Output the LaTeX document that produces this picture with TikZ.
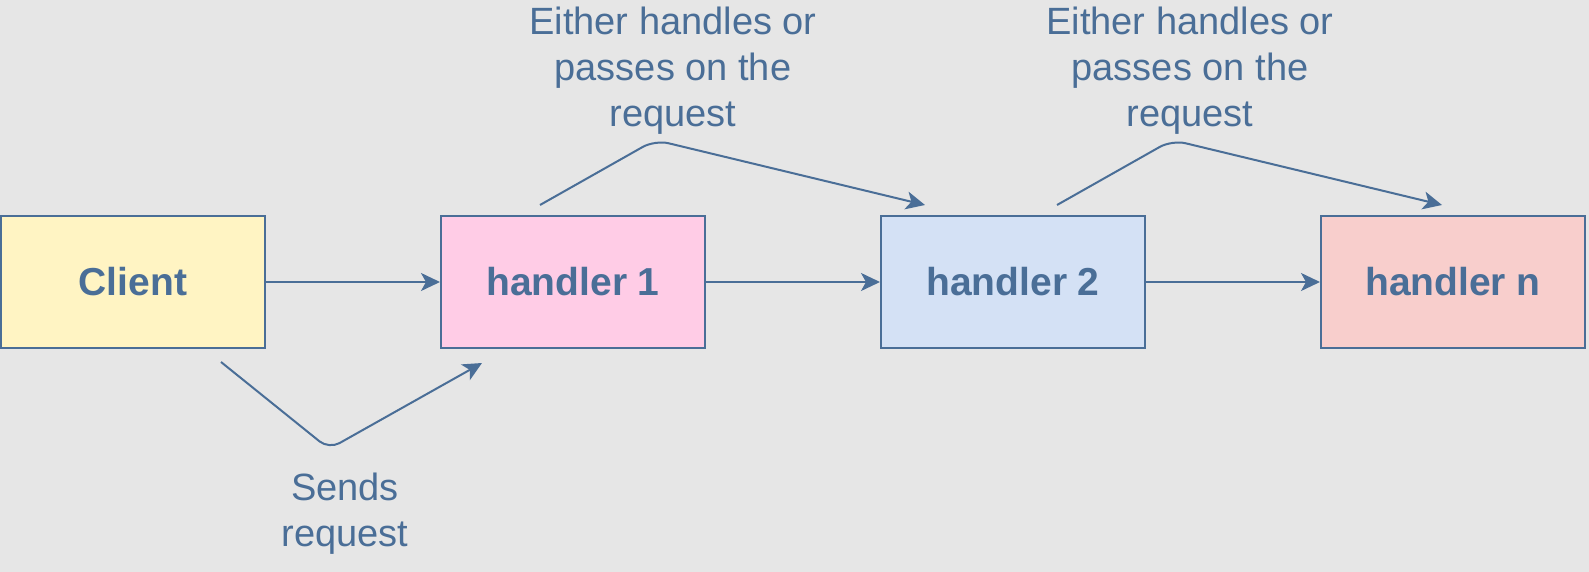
\documentclass[tikz,border=0pt]{standalone}
\usepackage{fontspec}
\setmainfont{Liberation Sans}
\usetikzlibrary{arrows.meta}

\definecolor{bggray}{HTML}{E6E6E6}
\definecolor{edgeblue}{HTML}{4A6E97}
\definecolor{clientyellow}{HTML}{FFF4C3}
\definecolor{hpink}{HTML}{FFCCE6}
\definecolor{hblue}{HTML}{D4E1F5}
\definecolor{hsalmon}{HTML}{F8CECC}

\begin{document}
\begin{tikzpicture}[x=1pt, y=-1pt,
  box/.style={draw=edgeblue, line width=2pt, minimum width=264pt, minimum height=132pt,
    inner sep=0pt, text=edgeblue, font=\fontsize{39}{46}\selectfont\bfseries},
  note/.style={align=center, text=edgeblue, font=\fontsize{38}{46}\selectfont},
  flow/.style={draw=edgeblue, line width=2pt, -{Stealth[length=19pt, width=18pt, inset=5pt]}}]

  \fill[bggray] (0,0) rectangle (1589,572);
  \useasboundingbox (0,0) rectangle (1589,572);

  % the chain
  \node[box, fill=clientyellow] (client) at (133,282) {Client};
  \node[box, fill=hpink]        (hone)   at (573,282) {handler 1};
  \node[box, fill=hblue]        (htwo)   at (1013,282) {handler 2};
  \node[box, fill=hsalmon]      (hn)     at (1453,282) {handler n};

  \foreach \a/\b in {client/hone, hone/htwo, htwo/hn}
  \draw[flow] (\a) -- (\b);

  % request from client
  \coordinate (sendfrom) at (221,362);
  \coordinate (sendto) at (482,363);
  \draw[flow, rounded corners=12pt] (sendfrom) -- (329,449) -- (sendto);
  \node[note] (sendtxt) at (345,514) {Sends\\request};

  % handlers pass it on
  \foreach \d/\n in {0/one, 517/two}{
    \coordinate (passfrom\n) at (540+\d,205);
    \coordinate (passto\n) at (925+\d,205);
    \draw[flow, rounded corners=14pt] (passfrom\n) -- (655+\d,140) -- (passto\n);
    \node[note] (passtxt\n) at (673+\d,71) {Either handles or\\passes on the\\request};
  }

\end{tikzpicture}
\end{document}
